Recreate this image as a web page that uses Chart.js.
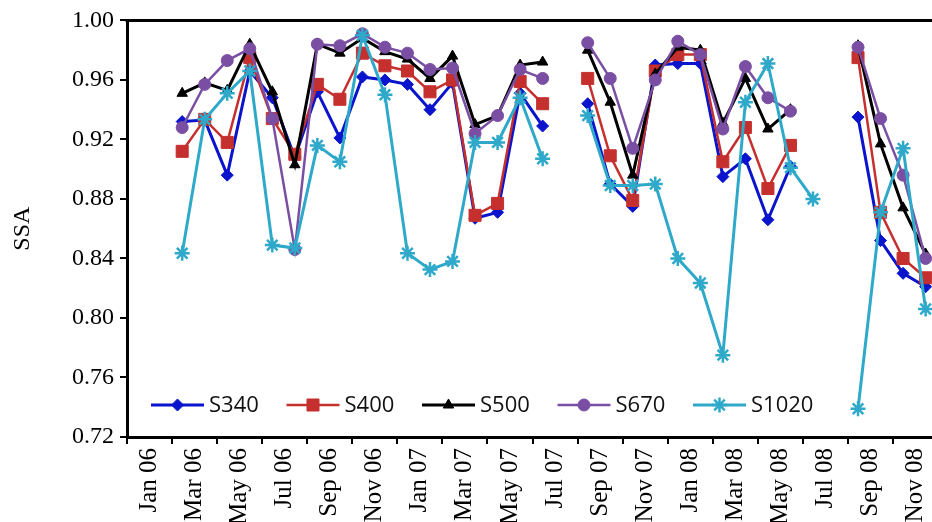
<!DOCTYPE html>
<html>
<head>
<meta charset="utf-8">
<script src="https://cdn.jsdelivr.net/npm/chart.js@4.4.1/dist/chart.umd.min.js"></script>
<style>
html, body { margin: 0; padding: 0; background: #fff; overflow: hidden; }
#wrap { width: 950px; height: 522px; }
</style>
</head>
<body>
<div id="wrap"><canvas id="ssaChart" width="950" height="522"></canvas></div>
<script>
// monthly values, Mar 06 .. Dec 08 (null = no data)
const months = ['Mar 06', 'Apr 06', 'May 06', 'Jun 06', 'Jul 06', 'Aug 06', 'Sep 06', 'Oct 06', 'Nov 06', 'Dec 06',
    'Jan 07', 'Feb 07', 'Mar 07', 'Apr 07', 'May 07', 'Jun 07', 'Jul 07', 'Aug 07', 'Sep 07', 'Oct 07', 'Nov 07', 'Dec 07',
    'Jan 08', 'Feb 08', 'Mar 08', 'Apr 08', 'May 08', 'Jun 08', 'Jul 08', 'Aug 08', 'Sep 08', 'Oct 08', 'Nov 08', 'Dec 08'];

const s340 = [0.932, 0.933, 0.896, 0.966, 0.948, 0.908, 0.952, 0.921, 0.962, 0.960, 0.957, 0.940, 0.958, 0.867, 0.871, 0.951, 0.929, null,
    0.944, 0.890, 0.875, 0.970, 0.971, 0.971, 0.895, 0.907, 0.866, 0.902, null, null, 0.935, 0.852, 0.830, 0.821];
const s400 = [0.912, 0.9335, 0.918, 0.975, 0.934, 0.910, 0.957, 0.947, 0.978, 0.9695, 0.966, 0.952, 0.960, 0.869, 0.877, 0.959, 0.944, null,
    0.961, 0.909, 0.879, 0.966, 0.977, 0.977, 0.905, 0.928, 0.887, 0.916, null, null, 0.975, 0.871, 0.840, 0.827];
const s500 = [0.951, 0.958, 0.953, 0.984, 0.952, 0.903, 0.984, 0.978, 0.988, 0.979, 0.974, 0.961, 0.976, 0.930, 0.936, 0.970, 0.972, null,
    0.980, 0.945, 0.896, 0.964, 0.982, 0.980, 0.931, 0.961, 0.927, 0.940, null, null, 0.983, 0.917, 0.874, 0.843];
const s670 = [0.928, 0.957, 0.973, 0.981, 0.934, 0.846, 0.984, 0.983, 0.991, 0.982, 0.978, 0.967, 0.968, 0.924, 0.936, 0.967, 0.961, null,
    0.985, 0.961, 0.914, 0.960, 0.986, 0.977, 0.927, 0.969, 0.948, 0.939, null, null, 0.982, 0.934, 0.896, 0.840];
const s1020 = [0.8435, 0.9335, 0.951, 0.966, 0.849, 0.847, 0.916, 0.905, 0.990, 0.950, 0.8435, 0.8325, 0.838, 0.918, 0.918, 0.948, 0.907, null,
    0.936, 0.889, 0.889, 0.890, 0.840, 0.8235, 0.775, 0.945, 0.971, 0.901, 0.880, null, 0.739, 0.871, 0.914, 0.806];

const tickLabels = ['Jan 06', 'Mar 06', 'May 06', 'Jul 06', 'Sep 06', 'Nov 06', 'Jan 07', 'Mar 07', 'May 07', 'Jul 07',
    'Sep 07', 'Nov 07', 'Jan 08', 'Mar 08', 'May 08', 'Jul 08', 'Sep 08', 'Nov 08'];
const yTicks = [0.72, 0.76, 0.80, 0.84, 0.88, 0.92, 0.96, 1.00];

const monthNames = ['Jan', 'Feb', 'Mar', 'Apr', 'May', 'Jun', 'Jul', 'Aug', 'Sep', 'Oct', 'Nov', 'Dec'];

// month count from Jan 06
function monthIndex(label) {
    const parts = label.split(' ');
    return monthNames.indexOf(parts[0]) + 12 * (parseInt(parts[1], 10) - 6);
}

function toPoints(values) {
    return months.map((m, i) => ({ x: monthIndex(m) + 0.45, y: values[i] }));
}

const serif = 'Liberation Serif';

// legend sits inside the plot, near the bottom
const insideLegend = {
    id: 'insideLegend',
    afterDraw(chart) {
        const ctx = chart.ctx;
        const y = chart.chartArea.bottom - 32;
        ctx.save();
        chart.data.datasets.forEach((ds, i) => {
            const x0 = 151 + 135.5 * i;
            ctx.strokeStyle = ds.borderColor;
            ctx.lineWidth = ds.borderWidth;
            ctx.beginPath();
            ctx.moveTo(x0, y);
            ctx.lineTo(x0 + 53, y);
            ctx.stroke();

            ctx.fillStyle = ds.pointBackgroundColor;
            ctx.strokeStyle = ds.pointBorderColor;
            ctx.lineWidth = ds.pointBorderWidth;
            Chart.helpers.drawPoint(ctx, {
                pointStyle: ds.pointStyle, radius: ds.pointRadius,
                borderWidth: ds.pointBorderWidth, rotation: 0
            }, x0 + 26.5, y);

            ctx.fillStyle = '#111';
            ctx.font = '22px "Open Sans"';
            ctx.textBaseline = 'middle';
            ctx.textAlign = 'left';
            ctx.fillText(ds.label, x0 + 58, y + 1);
        });
        ctx.restore();
    }
};

// thick top edge of the plot area
const topFrame = {
    id: 'topFrame',
    afterDraw(chart) {
        const { ctx, chartArea } = chart;
        ctx.save();
        ctx.strokeStyle = '#000';
        ctx.lineWidth = 3;
        ctx.beginPath();
        ctx.moveTo(chartArea.left - 1.5, chartArea.top);
        ctx.lineTo(chartArea.right, chartArea.top);
        ctx.stroke();
        ctx.restore();
    }
};

function series(label, values, color, style, radius, width, order, extra) {
    return Object.assign({
        label: label,
        data: toPoints(values),
        borderColor: color,
        backgroundColor: color,
        borderWidth: width,
        pointStyle: style,
        pointRadius: radius,
        pointHoverRadius: radius,
        pointBackgroundColor: color,
        pointBorderColor: color,
        pointBorderWidth: 1,
        spanGaps: false,
        tension: 0,
        order: order
    }, extra || {});
}

new Chart(document.getElementById('ssaChart'), {
    type: 'line',
    data: {
        datasets: [
            series('S340', s340, '#0a14cc', 'rectRot', 6, 3, 5),
            series('S400', s400, '#c5302e', 'rect', 8.5, 2.5, 4),
            series('S500', s500, '#000000', 'triangle', 6, 3, 3),
            series('S670', s670, '#7a4ea3', 'circle', 6, 2.5, 2),
            series('S1020', s1020, '#2fa9c9', 'star', 7.5, 3, 1, { pointBorderWidth: 2.5 })
        ]
    },
    options: {
        responsive: false,
        animation: false,
        events: [],
        layout: { padding: { top: 17, right: 12, left: 0, bottom: 0 } },
        plugins: { legend: { display: false }, tooltip: { enabled: false } },
        scales: {
            x: {
                type: 'linear',
                min: 0,
                max: 36,
                afterBuildTicks: (s) => { s.ticks = tickLabels.map(t => ({ value: monthIndex(t) + 1 })); },
                afterFit: (s) => { s.height = 85; },
                ticks: {
                    autoSkip: false,
                    minRotation: 90,
                    maxRotation: 90,
                    padding: 4,
                    color: '#000',
                    font: { family: serif, size: 25 },
                    callback: (value, index) => tickLabels[index]
                },
                grid: { offset: true, drawOnChartArea: false, tickLength: 7, color: '#000', lineWidth: 2 },
                border: { color: '#000', width: 3 }
            },
            y: {
                min: 0.72,
                max: 1.00,
                afterBuildTicks: (s) => { s.ticks = yTicks.map(v => ({ value: v })); },
                afterFit: (s) => { s.width = 127; },
                ticks: {
                    padding: 6,
                    color: '#000',
                    font: { family: serif, size: 24 },
                    callback: (value) => value.toFixed(2)
                },
                grid: { drawOnChartArea: false, tickLength: 7, color: '#000', lineWidth: 2 },
                border: { color: '#000', width: 3 },
                title: {
                    display: true,
                    text: 'SSA',
                    color: '#000',
                    font: { family: serif, size: 24 },
                    padding: { top: 8, bottom: 0 }
                }
            }
        }
    },
    plugins: [insideLegend, topFrame]
});
</script>
</body>
</html>
